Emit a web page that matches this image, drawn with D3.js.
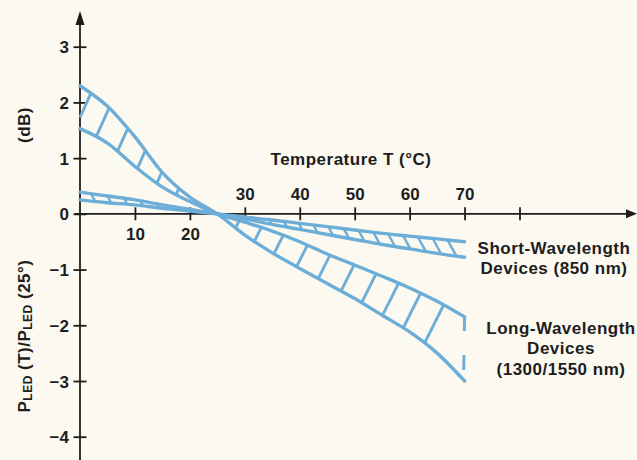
<!DOCTYPE html>
<html>
<head>
<meta charset="utf-8">
<script src="https://cdn.jsdelivr.net/npm/d3@7/dist/d3.min.js"></script>
<style>
  html, body { margin: 0; padding: 0; background: #fcf9f1; }
  svg { display: block; }
  text { font-family: "Liberation Sans", Arial, Helvetica, sans-serif; font-weight: bold; fill: #1d1d1d; }
</style>
</head>
<body>
<svg id="chart" width="637" height="460"></svg>
<script>
// Temperature samples (°C) shared by all band edges
const temps = [0, 5, 10, 15, 20, 25, 30, 35, 40, 45, 50, 55, 60, 65, 70];

// Long-wavelength devices (1300/1550 nm): relative output power, dB
const longSteep   = [2.30, 1.93, 1.38, 0.74, 0.30, 0, -0.38, -0.70, -0.98, -1.25, -1.52, -1.82, -2.12, -2.50, -3.00];
const longShallow = [1.53, 1.27, 0.85, 0.48, 0.22, 0, -0.15, -0.31, -0.50, -0.72, -0.92, -1.12, -1.33, -1.57, -1.85];

// Short-wavelength devices (850 nm): relative output power, dB
const shortSteep   = [0.39, 0.32, 0.25, 0.16, 0.08, 0, -0.09, -0.19, -0.28, -0.37, -0.46, -0.55, -0.63, -0.71, -0.78];
const shortShallow = [0.25, 0.20, 0.16, 0.10, 0.05, 0, -0.06, -0.11, -0.17, -0.23, -0.29, -0.35, -0.40, -0.45, -0.50];

// Temperatures where hatch strokes leave the top edge of each band
const longHatchT  = [2, 5.3, 8.7, 11.9, 14.9, 18, 21.3, 29, 33, 37, 41.4, 45.5, 49.9, 53.9, 58, 62, 66.2];
const shortHatchT = [2, 5, 8, 11, 14, 17, 20, 29, 31.7, 34.4, 37.1, 39.8, 42.5, 45.2, 48, 50.7, 53.4, 56.1, 58.8, 61.5, 64.2, 66.9, 69.4];

// Axis ticks and labels
const xTicks = [10, 20, 30, 40, 50, 60, 70, 80];
const xTickLabels = ["10", "20", "30", "40", "50", "60", "70", ""];
const yTicks = [-4, -3, -2, -1, 0, 1, 2, 3];
const yTickLabels = ["\u22124", "\u22123", "\u22122", "\u22121", "0", "1", "2", "3"];

const BLUE = "#6caed7";
const INK = "#1d1d1d";

const svg = d3.select("#chart");
svg.append("rect").attr("width", 637).attr("height", 460).attr("fill", "#fcf9f1");

const x = d3.scaleLinear().domain([0, 80]).range([80, 519.5]);
const y = d3.scaleLinear().domain([-4, 3]).range([436.7, 46.7]);

// ---- axes ----
const axisG = svg.append("g");

const xAxis = d3.axisBottom(x).tickValues(xTicks)
  .tickFormat((d, i) => xTickLabels[i]).tickSize(0).tickPadding(0);
const gx = axisG.append("g").attr("transform", `translate(0,${y(0)})`).call(xAxis);
gx.select(".domain").remove();
gx.selectAll(".tick line").attr("y1", -6.5).attr("y2", 6.5)
  .attr("stroke", INK).attr("stroke-width", 1.8);
gx.selectAll(".tick text")
  .attr("font-size", 17).attr("font-family", null).attr("fill", INK)
  .attr("dy", null)
  .attr("y", d => d < 25 ? 26 : -14);

const yAxis = d3.axisLeft(y).tickValues(yTicks)
  .tickFormat((d, i) => yTickLabels[i]).tickSize(0).tickPadding(0);
const gy = axisG.append("g").attr("transform", `translate(${x(0)},0)`).call(yAxis);
gy.select(".domain").remove();
gy.selectAll(".tick line").attr("x1", -6.5).attr("x2", 6.5)
  .attr("stroke", INK).attr("stroke-width", 1.8);
gy.selectAll(".tick text")
  .attr("font-size", 17).attr("font-family", null).attr("fill", INK)
  .attr("x", -11).attr("dy", "0.36em");

// axis lines with arrowheads
const x0 = x(0), y0 = y(0);
axisG.append("line").attr("x1", x0 - 5).attr("x2", 630).attr("y1", y0).attr("y2", y0)
  .attr("stroke", INK).attr("stroke-width", 1.8);
axisG.append("path").attr("d", `M637,${y0} L626,${y0 - 4.5} L626,${y0 + 4.5} Z`).attr("fill", INK);
axisG.append("line").attr("x1", x0).attr("x2", x0).attr("y1", 460).attr("y2", 18)
  .attr("stroke", INK).attr("stroke-width", 1.8);
axisG.append("path").attr("d", `M${x0},11 L${x0 - 4.5},25 L${x0 + 4.5},25 Z`).attr("fill", INK);

// axis titles
svg.append("text").attr("x", 351).attr("y", 165).attr("text-anchor", "middle")
  .attr("font-size", 17).attr("letter-spacing", 0.5).text("Temperature T (°C)");

svg.append("text").attr("transform", "translate(30,125) rotate(-90)")
  .attr("text-anchor", "middle").attr("font-size", 17).attr("letter-spacing", 0.5).text("(dB)");

const pl = svg.append("text").attr("transform", "translate(30,336) rotate(-90)")
  .attr("text-anchor", "middle").attr("font-size", 17).attr("letter-spacing", 0.5);
pl.append("tspan").text("P");
pl.append("tspan").attr("font-size", 12).attr("dy", 1.5).text("LED");
pl.append("tspan").attr("dy", -1.5).text(" (T)/P");
pl.append("tspan").attr("font-size", 12).attr("dy", 1.5).text("LED");
pl.append("tspan").attr("dy", -1.5).text(" (25°)");

// ---- bands ----
const line = d3.line().x(d => x(d[0])).y(d => y(d[1])).curve(d3.curveMonotoneX);
const bandG = svg.append("g").attr("fill", "none").attr("stroke", BLUE)
  .attr("stroke-linejoin", "round");

function drawEdge(values) {
  return bandG.append("path").attr("d", line(temps.map((t, i) => [t, values[i]])))
    .attr("stroke-width", 3.4).attr("stroke-linecap", "round");
}

function samples(node) {
  const L = node.getTotalLength(), pts = [];
  for (let s = 0; s <= L; s += 0.5) pts.push(node.getPointAtLength(s));
  pts.push(node.getPointAtLength(L));
  return pts;
}
function yAtX(pts, px) {
  for (let i = 1; i < pts.length; i++) {
    const a = pts[i - 1], b = pts[i];
    if ((a.x - px) * (b.x - px) <= 0 && a.x !== b.x) {
      return a.y + (b.y - a.y) * (px - a.x) / (b.x - a.x);
    }
  }
  return null;
}
// stroke starting on the top edge at temperature t, slanting by `ratio` (dx per dy) to the other edge;
// strokes that run off the left end of the band stop at the vertical axis
function hatch(ptsA, ptsB, t, ratio, width) {
  const px = x(t);
  const ya = yAtX(ptsA, px), yb = yAtX(ptsB, px);
  if (ya == null || yb == null) return;
  const topY = Math.min(ya, yb);
  const other = ya <= yb ? ptsB : ptsA;
  const f = p => (p.x - px) - ratio * (p.y - topY);
  let best = null;
  for (let i = 1; i < other.length; i++) {
    const a = other[i - 1], b = other[i];
    const fa = f(a), fb = f(b);
    if (fa * fb <= 0 && fa !== fb) {
      const k = fa / (fa - fb);
      const q = { x: a.x + (b.x - a.x) * k, y: a.y + (b.y - a.y) * k };
      if (q.y > topY && (!best || Math.abs(q.x - px) < Math.abs(best.x - px))) best = q;
    }
  }
  if (!best && ratio < 0) best = { x: x0, y: topY + (x0 - px) / ratio };
  if (!best) return;
  bandG.append("line").attr("x1", px).attr("y1", topY).attr("x2", best.x).attr("y2", best.y)
    .attr("stroke-width", width);
}

// long-wavelength band
const lA = drawEdge(longSteep), lB = drawEdge(longShallow);
const lAp = samples(lA.node()), lBp = samples(lB.node());
longHatchT.forEach(t => hatch(lAp, lBp, t, t < 25 ? -0.45 : -0.5, 2.9));
// broken closing stroke at 70 °C
const endT = temps[temps.length - 1];
const yTop = y(longShallow[longShallow.length - 1]), yBot = y(longSteep[longSteep.length - 1]);
bandG.append("line").attr("x1", x(endT)).attr("x2", x(endT) - 1)
  .attr("y1", yTop).attr("y2", yBot).attr("stroke-width", 2.9)
  .attr("stroke-dasharray", `14,${(yBot - yTop) - 40},15,20`);

// short-wavelength band
const sA = drawEdge(shortSteep), sB = drawEdge(shortShallow);
const sAp = samples(sA.node()), sBp = samples(sB.node());
shortHatchT.forEach(t => hatch(sAp, sBp, t, 0.55, 2.4));

// ---- labels for the two device families ----
const legend = [
  { lines: ["Short-Wavelength", "Devices (850 nm)"], cx: 554, y0: 253.5, step: 20 },
  { lines: ["Long-Wavelength", "Devices", "(1300/1550 nm)"], cx: 561, y0: 333.5, step: 20.8 }
];
legend.forEach(g => {
  g.lines.forEach((s, i) => {
    svg.append("text").attr("x", g.cx).attr("y", g.y0 + i * g.step)
      .attr("text-anchor", "middle").attr("font-size", 17).attr("letter-spacing", 0.5).text(s);
  });
});
</script>
</body>
</html>
